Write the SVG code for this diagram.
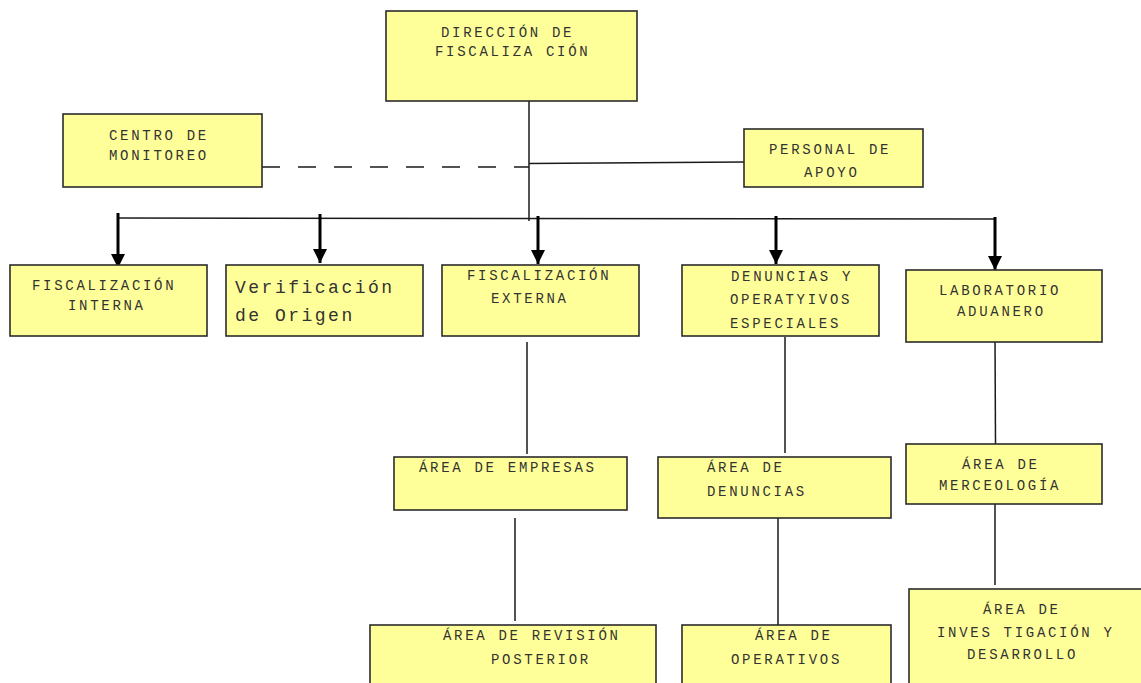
<svg xmlns="http://www.w3.org/2000/svg" width="1141" height="683" viewBox="0 0 1141 683">
<style>
.box{fill:#FFFF99;stroke:#2b2b2b;stroke-width:1.6}
.t{font-family:"Liberation Mono","Courier New",monospace;font-size:14px;letter-spacing:2.7px;fill:#333}
.tb{font-family:"Liberation Mono","Courier New",monospace;font-size:18px;letter-spacing:2.5px;fill:#333}
.ln{stroke:#1a1a1a;stroke-width:1.5;fill:none}
.ar{stroke:#000;stroke-width:3;fill:none}
</style>
<defs>
<marker id="ah" markerUnits="userSpaceOnUse" markerWidth="16" markerHeight="16" viewBox="0 0 16 16" refX="15" refY="8" orient="auto">
<path d="M1,1 L15,8 L1,15 Z" fill="#000"/>
</marker>
</defs>
<g id="connectors">
<line class="ln" x1="529" y1="93" x2="529" y2="221"/>
<line class="ln" x1="262" y1="167" x2="529" y2="167" stroke-dasharray="18 18"/>
<line class="ln" x1="529" y1="163.5" x2="744" y2="162"/>
<line class="ln" x1="118" y1="218" x2="995" y2="219"/>
<line class="ar" x1="118" y1="213" x2="118" y2="268" marker-end="url(#ah)"/>
<line class="ar" x1="320" y1="214" x2="320" y2="263" marker-end="url(#ah)"/>
<line class="ar" x1="538" y1="216" x2="538" y2="264" marker-end="url(#ah)"/>
<line class="ar" x1="776" y1="216" x2="776" y2="264" marker-end="url(#ah)"/>
<line class="ar" x1="995" y1="217" x2="995" y2="270" marker-end="url(#ah)"/>
<line class="ln" x1="527" y1="342" x2="527" y2="454"/>
<line class="ln" x1="515" y1="518" x2="515" y2="621"/>
<line class="ln" x1="785" y1="337" x2="785" y2="453"/>
<line class="ln" x1="778" y1="518" x2="778" y2="625"/>
<line class="ln" x1="995" y1="337" x2="995.5" y2="444"/>
<line class="ln" x1="995" y1="503" x2="995" y2="585"/>
</g>
<g id="direccion">
<rect class="box" x="386" y="11" width="251" height="90"/>
<text class="t" x="441" y="37">DIRECCIÓN DE</text>
<text class="t" x="435" y="56">FISCALIZA CIÓN</text>
</g>
<g id="centro-monitoreo">
<rect class="box" x="63" y="114" width="199" height="73"/>
<text class="t" x="109" y="140">CENTRO DE</text>
<text class="t" x="109" y="160">MONITOREO</text>
</g>
<g id="personal-apoyo">
<rect class="box" x="744" y="129" width="179" height="58"/>
<text class="t" x="769" y="154">PERSONAL DE</text>
<text class="t" x="804" y="177">APOYO</text>
</g>
<g id="fiscalizacion-interna">
<rect class="box" x="10" y="265" width="197" height="71"/>
<text class="t" x="32" y="290">FISCALIZACIÓN</text>
<text class="t" x="68" y="310">INTERNA</text>
</g>
<g id="verificacion-origen">
<rect class="box" x="226" y="265" width="197" height="71"/>
<text class="tb" x="235" y="293">Verificación</text>
<text class="tb" x="235" y="321">de Origen</text>
</g>
<g id="fiscalizacion-externa">
<rect class="box" x="442" y="265" width="197" height="71"/>
<text class="t" x="467" y="280">FISCALIZACIÓN</text>
<text class="t" x="491" y="303">EXTERNA</text>
</g>
<g id="denuncias-operativos">
<rect class="box" x="682" y="265" width="197" height="71"/>
<text class="t" x="731" y="281">DENUNCIAS Y</text>
<text class="t" x="730" y="304">OPERATYIVOS</text>
<text class="t" x="730" y="328">ESPECIALES</text>
</g>
<g id="laboratorio-aduanero">
<rect class="box" x="906" y="270" width="196" height="72"/>
<text class="t" x="939" y="295">LABORATORIO</text>
<text class="t" x="957" y="316">ADUANERO</text>
</g>
<g id="area-empresas">
<rect class="box" x="394" y="457" width="233" height="53"/>
<text class="t" x="419" y="472">ÁREA DE EMPRESAS</text>
</g>
<g id="area-revision">
<rect class="box" x="370" y="625" width="286" height="62"/>
<text class="t" x="443" y="640">ÁREA DE REVISIÓN</text>
<text class="t" x="491" y="664">POSTERIOR</text>
</g>
<g id="area-denuncias">
<rect class="box" x="658" y="457" width="233" height="61"/>
<text class="t" x="707" y="472">ÁREA DE</text>
<text class="t" x="707" y="496">DENUNCIAS</text>
</g>
<g id="area-operativos">
<rect class="box" x="682" y="625" width="209" height="62"/>
<text class="t" x="755" y="640">ÁREA DE</text>
<text class="t" x="731" y="664">OPERATIVOS</text>
</g>
<g id="area-merceologia">
<rect class="box" x="906" y="444" width="196" height="60"/>
<text class="t" x="962" y="469">ÁREA DE</text>
<text class="t" x="939" y="490">MERCEOLOGÍA</text>
</g>
<g id="area-investigacion">
<rect class="box" x="909" y="589" width="236" height="98"/>
<text class="t" x="983" y="614">ÁREA DE</text>
<text class="t" x="937" y="637">INVES TIGACIÓN Y</text>
<text class="t" x="967" y="659">DESARROLLO</text>
</g>
</svg>
